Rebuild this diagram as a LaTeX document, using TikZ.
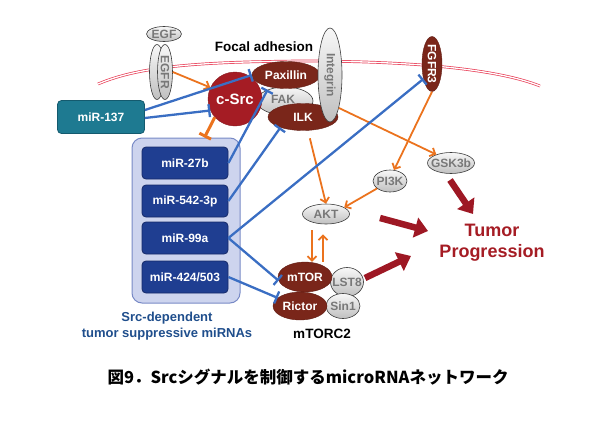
\documentclass[tikz,border=0pt]{standalone}
\usepackage{fontspec}
\setmainfont{Liberation Sans}
\newfontfamily\jpfont{Noto Sans CJK JP}
\usetikzlibrary{shapes.geometric,arrows.meta,calc}
\definecolor{brownc}{RGB}{122,38,26}
\definecolor{srcred}{RGB}{165,28,36}
\definecolor{bigred}{RGB}{158,24,36}
\definecolor{grytxt}{RGB}{120,120,120}
\definecolor{grydraw}{RGB}{60,60,60}
\definecolor{mirblue}{RGB}{31,62,145}
\definecolor{mirdark}{RGB}{22,42,105}
\definecolor{tealc}{RGB}{30,122,145}
\definecolor{tealdark}{RGB}{20,90,110}
\definecolor{grpfill}{RGB}{205,212,238}
\definecolor{grpdraw}{RGB}{120,138,198}
\definecolor{lblblue}{RGB}{31,78,140}
\definecolor{orangec}{RGB}{235,115,30}
\definecolor{bluec}{RGB}{58,110,195}
\definecolor{membc}{RGB}{232,60,85}
\newcommand\mbx[1]{\makebox[0pt]{#1}}
\begin{document}
\begin{tikzpicture}[x=1pt,y=-1pt,
  lblfont/.style={font=\bfseries\fontsize{12}{14}\selectfont},
  grayell/.style={ellipse, inner sep=0pt, top color=white!94!gray, bottom color=gray!50,
    draw=grydraw, line width=0.6pt, text=grytxt, lblfont},
  brownell/.style={ellipse, inner sep=0pt, fill=brownc, draw=brownc!80!black, line width=0.4pt, text=white, lblfont},
  mirbox/.style={rectangle, rounded corners=4pt, minimum width=86pt, minimum height=32pt,
    fill=mirblue, draw=mirdark, line width=0.8pt, text=white, lblfont},
  oarrow/.style={draw=orangec, line width=1.8pt, -{Straight Barb[length=4.5pt,width=9pt]}},
  obar/.style={draw=orangec, line width=3pt, -{Bar[width=13pt]}},
  bline/.style={draw=bluec, line width=2.3pt, -{Bar[width=13pt]}},
  bigarrow/.style={draw=bigred, line width=6.5pt, -{Triangle[length=13pt,width=20pt]}},
  membrane/.style={draw=membc, line width=0.7pt, double=white, double distance=1.3pt}
]
\useasboundingbox (0,0) rectangle (609,431);

% membrane
\draw[membrane] (98,84) .. controls (140,66) and (200,62) .. (300,61)
  .. controls (420,61) and (500,70) .. (540,86);

% EGF / EGFR
\node[grayell, minimum width=35pt, minimum height=15pt] (EGF) at (164,34) {\mbx{EGF}};
\node[grayell, rotate=-90, minimum width=55pt, minimum height=15pt] (EGFRa) at (157,72) {};
\node[grayell, rotate=-90, minimum width=55pt, minimum height=15pt] (EGFRb) at (165,72) {\mbx{EGFR}};

\node[font=\bfseries\fontsize{13.5}{16}\selectfont] (focal) at (264,47) {Focal adhesion};

% focal adhesion complex
\node[grayell, minimum width=56pt, minimum height=28pt] (FAK) at (285,101) {\mbx{\smash{\raisebox{-2pt}{FAK\hspace{4pt}}}}};
\node[circle, fill=srcred, draw=srcred!80!black, line width=0.4pt, minimum size=54pt, inner sep=0pt, text=white,
  font=\bfseries\fontsize{15}{17}\selectfont] (cSrc) at (235,99) {c-Src};
\node[brownell, minimum width=68pt, minimum height=27pt] (Pax) at (286,75) {\mbx{Paxillin}};
\node[brownell, minimum width=70pt, minimum height=27pt] (ILK) at (303,117) {\mbx{ILK}};
\node[grayell, rotate=-90, minimum width=94pt, minimum height=24pt] (Integrin) at (330,75) {\mbx{Integrin}};

\node[brownell, rotate=-90, minimum width=55pt, minimum height=20pt] (FGFR3) at (432,64) {\mbx{FGFR3}};

% miR-137
\node[rectangle, rounded corners=4pt, fill=tealc, draw=tealdark, line width=0.8pt,
  minimum width=87pt, minimum height=33pt, text=white, lblfont] (miR137) at (101,117) {miR-137};

% miRNA group
\node[rectangle, rounded corners=10pt, fill=grpfill, draw=grpdraw, line width=1pt,
  minimum width=108pt, minimum height=165pt] (grp) at (186,220.5) {};
\node[mirbox] (miR27b) at (185,163) {miR-27b};
\node[mirbox] (miR542) at (185,201) {miR-542-3p};
\node[mirbox] (miR99a) at (185,238) {miR-99a};
\node[mirbox] (miR424) at (185,277) {miR-424/503};
\node[align=center, text=lblblue, font=\bfseries\fontsize{13}{16}\selectfont] (lbl) at (167,326)
  {Src-dependent\\tumor suppressive miRNAs};

% signalling
\node[grayell, minimum width=47pt, minimum height=21pt] (GSK3b) at (451,163) {\mbx{GSK3b}};
\node[grayell, minimum width=34pt, minimum height=22pt] (PI3K) at (390,181) {\mbx{PI3K}};
\node[grayell, minimum width=47pt, minimum height=20pt] (AKT) at (326,214) {\mbx{AKT}};

% mTORC2
\node[grayell, minimum width=33pt, minimum height=29pt] (LST8) at (347,282) {\mbx{LST8}};
\node[grayell, minimum width=34pt, minimum height=25pt] (Sin1) at (343,306) {\mbx{Sin1}};
\node[brownell, minimum width=54pt, minimum height=30pt] (mTOR) at (305,277) {\mbx{mTOR}};
\node[brownell, minimum width=54pt, minimum height=28pt] (Rictor) at (300,306) {\mbx{Rictor}};
\node[font=\bfseries\fontsize{13.5}{16}\selectfont] (mtorc2) at (322,334) {mTORC2};

\node[align=center, text=srcred, font=\bfseries\fontsize{18}{21}\selectfont] (tp) at (492,243) {Tumor\\Progression};

\node[font=\jpfont\bfseries\fontsize{16.5}{18}\selectfont] (cap) at (308,377) {図9．Srcシグナルを制御するmicroRNAネットワーク};

% orange arrows
\draw[oarrow] (EGFRb.north) -- (cSrc.155);
\draw[obar] (cSrc.222) -- ($(grp.north west)+(73,0)$);
\draw[oarrow] (Integrin.15) -- (GSK3b.150);
\draw[oarrow] (FGFR3.east) -- (PI3K.70);
\draw[oarrow, shorten <=8pt] (ILK.-70) -- (AKT.north);
\draw[oarrow] (PI3K.210) -- (AKT.20);
\draw[oarrow, shorten <=6pt] ([xshift=-14pt]AKT.south) -- ([xshift=-14pt]AKT.south |- mTOR.north);
\draw[oarrow, shorten >=10pt] ([xshift=-3pt]AKT.south |- mTOR.north) -- ([xshift=-3pt]AKT.south);

% blue inhibitions
\draw[bline] ([yshift=7pt]miR137.east) -- (Pax.west);
\draw[bline] ([yshift=-1pt]miR137.east) -- (cSrc.205);
\draw[bline] (miR27b.east) -- (FAK.147);
\draw[bline] (miR542.east) -- (ILK.205);
\draw[bline] (miR99a.east) -- (FGFR3.330);
\draw[bline] (miR99a.east) -- (mTOR.188);
\draw[bline] (miR424.east) -- (Rictor.160);

% big arrows
\coordinate (g1) at (450,180);
\coordinate (g2) at (473,214);
\coordinate (a1) at (380,218);
\coordinate (a2) at (428,231);
\coordinate (m1) at (365,278);
\coordinate (m2) at (411,256);
\draw[bigarrow] (g1) -- (g2);
\draw[bigarrow] (a1) -- (a2);
\draw[bigarrow] (m1) -- (m2);
\end{tikzpicture}
\end{document}
